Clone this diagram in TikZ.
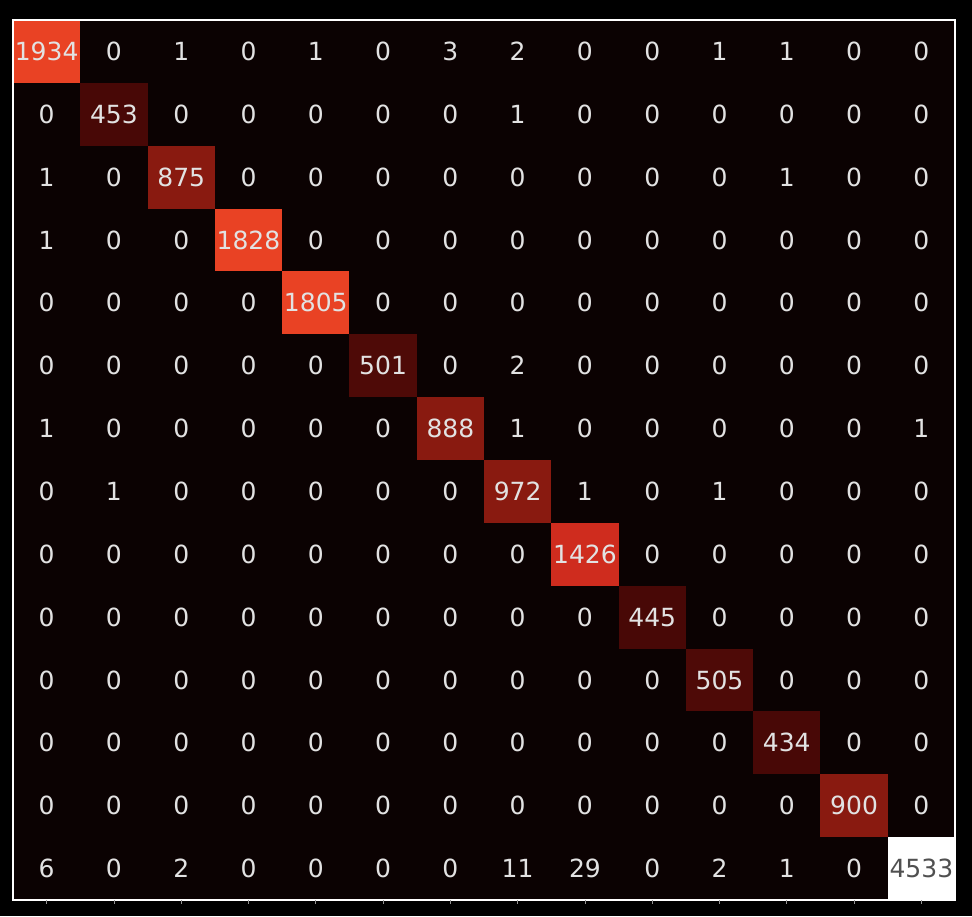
\documentclass[tikz,border=0pt]{standalone}
\usepackage{fontspec}
\setmainfont{DejaVu Sans}
\definecolor{zc}{RGB}{11,2,2}
\definecolor{hA}{RGB}{233,66,36}
\definecolor{hB}{RGB}{207,44,30}
\definecolor{hC}{RGB}{137,26,16}
\definecolor{hD}{RGB}{78,10,7}
\definecolor{hE}{RGB}{72,8,6}
\definecolor{txtlight}{RGB}{226,226,226}
\definecolor{txtdark}{RGB}{80,80,80}
\definecolor{tickgray}{RGB}{150,150,150}
\tikzset{
  cell/.style={inner sep=0pt, minimum width=67.3pt, minimum height=62.9pt,
    font=\fontsize{25}{25}\selectfont},
  frame/.style={draw=white, line width=1.4pt},
  tickmark/.style={draw=tickgray, line width=0.8pt}
}
\begin{document}
\begin{tikzpicture}[x=1pt,y=-1pt]
\fill[black] (0,0) rectangle (972,916);
\useasboundingbox (0,0) rectangle (972,916);
\def\cw{67.2857}
\def\ch{62.8571}
\foreach \r/\row in {
 0/{1934,0,1,0,1,0,3,2,0,0,1,1,0,0},
 1/{0,453,0,0,0,0,0,1,0,0,0,0,0,0},
 2/{1,0,875,0,0,0,0,0,0,0,0,1,0,0},
 3/{1,0,0,1828,0,0,0,0,0,0,0,0,0,0},
 4/{0,0,0,0,1805,0,0,0,0,0,0,0,0,0},
 5/{0,0,0,0,0,501,0,2,0,0,0,0,0,0},
 6/{1,0,0,0,0,0,888,1,0,0,0,0,0,1},
 7/{0,1,0,0,0,0,0,972,1,0,1,0,0,0},
 8/{0,0,0,0,0,0,0,0,1426,0,0,0,0,0},
 9/{0,0,0,0,0,0,0,0,0,445,0,0,0,0},
 10/{0,0,0,0,0,0,0,0,0,0,505,0,0,0},
 11/{0,0,0,0,0,0,0,0,0,0,0,434,0,0},
 12/{0,0,0,0,0,0,0,0,0,0,0,0,900,0},
 13/{6,0,2,0,0,0,0,11,29,0,2,1,0,4533}}{
  \foreach \v [count=\c from 0] in \row {
    \def\cc{zc}\def\tc{txtlight}
    \ifnum\v>400 \def\cc{hE}\fi
    \ifnum\v>480 \def\cc{hD}\fi
    \ifnum\v>800 \def\cc{hC}\fi
    \ifnum\v>1200 \def\cc{hB}\fi
    \ifnum\v>1700 \def\cc{hA}\fi
    \ifnum\v>4000 \def\cc{white}\def\tc{txtdark}\fi
    \node[cell, fill=\cc, text=\tc] (c-\r-\c) at ({13+\cw*(\c+0.5)},{20+\ch*(\r+0.5)}) {\v};
  }
}
\draw[frame] (13,20) rectangle (955,900);
\foreach \c in {0,...,13}{
  \draw[tickmark] ({13+\cw*(\c+0.5)},900) -- ++(0,4);
}
\end{tikzpicture}
\end{document}
